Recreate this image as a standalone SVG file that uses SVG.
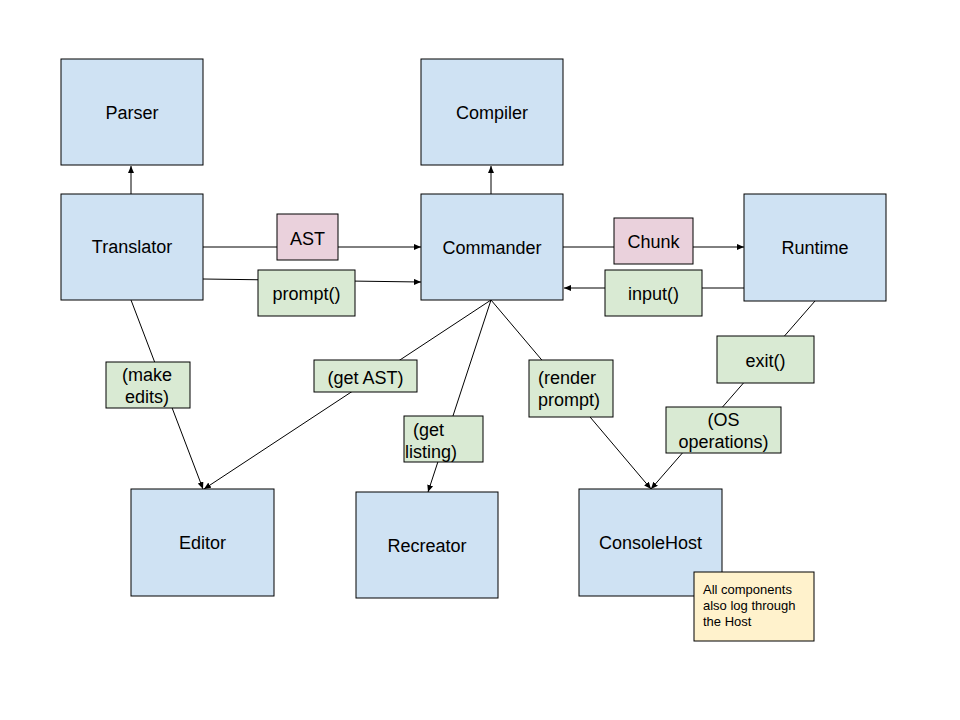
<svg xmlns="http://www.w3.org/2000/svg" width="960" height="720" viewBox="0 0 960 720">
<style>
.node{fill:#cfe2f3;stroke:#000;stroke-width:1}
.t{font-family:"Liberation Sans",Arial,sans-serif;font-size:18px;fill:#000}
.c{text-anchor:middle}
.pink{fill:#ead1dc;stroke:#000;stroke-width:1}
.green{fill:#d9ead3;stroke:#000;stroke-width:1}
.note{fill:#fff2cc;stroke:#000;stroke-width:1}
.n{font-family:"Liberation Sans",Arial,sans-serif;font-size:13px;fill:#000}
.e{stroke:#000;stroke-width:1;fill:none;marker-end:url(#a)}
</style>
<defs>
<marker id="a" markerUnits="userSpaceOnUse" markerWidth="8" markerHeight="6" refX="7" refY="3" orient="auto">
<path d="M0,0 L7,3 L0,6 z" fill="#000"/>
</marker>
</defs>
<rect width="960" height="720" fill="#fff"/>
<g id="connectors">
<line class="e" x1="131" y1="194" x2="131" y2="166"/>
<line class="e" x1="491" y1="194" x2="491" y2="166"/>
<line class="e" x1="203" y1="247" x2="421" y2="247"/>
<line class="e" x1="203" y1="279" x2="421" y2="282"/>
<line class="e" x1="563" y1="247" x2="744" y2="247"/>
<line class="e" x1="744" y1="288" x2="564" y2="288"/>
<line class="e" x1="131" y1="300" x2="203" y2="489"/>
<line class="e" x1="491" y1="300" x2="204" y2="489"/>
<line class="e" x1="491" y1="300" x2="428" y2="492"/>
<line class="e" x1="491" y1="300" x2="651" y2="489"/>
<line class="e" x1="815" y1="301" x2="651" y2="489"/>
<g id="label-ast"><rect class="pink" x="277" y="214" width="61" height="46"/><text class="t c" x="307.5" y="245">AST</text></g>
<g id="label-prompt"><rect class="green" x="258" y="270" width="97" height="46"/><text class="t c" x="306.5" y="300">prompt()</text></g>
<g id="label-chunk"><rect class="pink" x="614" y="218" width="79" height="46"/><text class="t c" x="653.5" y="248">Chunk</text></g>
<g id="label-input"><rect class="green" x="605" y="270" width="97" height="46"/><text class="t c" x="653.5" y="300">input()</text></g>
<g id="label-make-edits"><rect class="green" x="106" y="362" width="84" height="46"/><text class="t" x="122" y="381">(make</text><text class="t" x="125" y="403">edits)</text></g>
<g id="label-get-ast"><rect class="green" x="314" y="360" width="103" height="32"/><text class="t c" x="365.5" y="384">(get AST)</text></g>
<g id="label-get-listing"><rect class="green" x="404" y="416" width="79" height="46"/><text class="t" x="413" y="436">(get</text><text class="t" x="405" y="458">listing)</text></g>
<g id="label-render-prompt"><rect class="green" x="529" y="360" width="84" height="57"/><text class="t" x="538" y="384">(render</text><text class="t" x="538" y="406">prompt)</text></g>
<g id="label-exit"><rect class="green" x="717" y="336" width="97" height="47"/><text class="t c" x="765.5" y="367">exit()</text></g>
<g id="label-os"><rect class="green" x="666" y="407" width="115" height="46"/><text class="t c" x="723.5" y="426">(OS</text><text class="t c" x="723.5" y="448">operations)</text></g>
</g>
<g id="parser"><rect class="node" x="61" y="59" width="142" height="106"/><text class="t c" x="132" y="119">Parser</text></g>
<g id="translator"><rect class="node" x="61" y="194" width="142" height="106"/><text class="t c" x="132" y="253">Translator</text></g>
<g id="compiler"><rect class="node" x="421" y="59" width="142" height="106"/><text class="t c" x="492" y="119">Compiler</text></g>
<g id="commander"><rect class="node" x="421" y="194" width="142" height="106"/><text class="t c" x="492" y="254">Commander</text></g>
<g id="runtime"><rect class="node" x="744" y="194" width="142" height="107"/><text class="t c" x="815" y="254">Runtime</text></g>
<g id="editor"><rect class="node" x="131" y="489" width="143" height="107"/><text class="t c" x="202.5" y="549">Editor</text></g>
<g id="recreator"><rect class="node" x="356" y="492" width="142" height="106"/><text class="t c" x="427" y="552">Recreator</text></g>
<g id="consolehost"><rect class="node" x="579" y="489" width="143" height="107"/><text class="t c" x="650.5" y="549">ConsoleHost</text></g>
<g id="note"><rect class="note" x="694" y="572" width="120" height="69"/><text class="n" x="703" y="594">All components</text><text class="n" x="703" y="610">also log through</text><text class="n" x="703" y="626">the Host</text></g>
</svg>
